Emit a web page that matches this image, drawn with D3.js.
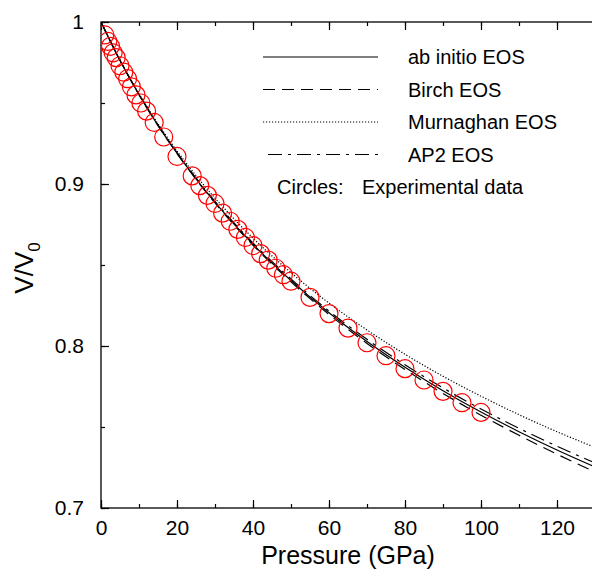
<!DOCTYPE html>
<html>
<head>
<meta charset="utf-8">
<script src="https://cdn.jsdelivr.net/npm/d3@7"></script>
<style>
  body { margin: 0; background: #fff; }
  text { font-family: "Liberation Sans", Arial, Helvetica, sans-serif; fill: #000; }
</style>
</head>
<body>
<div id="myDiagram"></div>
<script>
var pCurve = [0, 5, 10, 15, 20, 25, 30, 40, 50, 60, 70, 80, 90, 100, 110, 120, 130];

var abInitio  = [1, 0.9763, 0.9552, 0.9362, 0.9190, 0.9032, 0.8887, 0.8628, 0.8404, 0.8205, 0.8028, 0.7869, 0.7724, 0.7592, 0.7471, 0.7358, 0.7253];
var birch     = [1, 0.9763, 0.9551, 0.9360, 0.9188, 0.9029, 0.8883, 0.8622, 0.8396, 0.8195, 0.8016, 0.7855, 0.7707, 0.7573, 0.7449, 0.7332, 0.7223];
var murnaghan = [1, 0.9765, 0.9557, 0.9372, 0.9204, 0.9052, 0.8913, 0.8666, 0.8453, 0.8265, 0.8099, 0.7949, 0.7813, 0.7690, 0.7576, 0.7471, 0.7374];
var ap2       = [1, 0.9764, 0.9554, 0.9365, 0.9194, 0.9037, 0.8893, 0.8636, 0.8414, 0.8216, 0.8041, 0.7884, 0.7741, 0.7611, 0.7492, 0.7381, 0.7278];

// experimental data (circles)
var pExp = [1, 1.8, 2.5, 3.2, 4, 5, 6, 7, 8, 9.2, 10.5, 12, 14, 16.5, 20, 24, 26, 28, 30, 32, 34, 36, 38, 40, 42, 44, 46, 48, 50, 55, 60, 65, 70, 75, 80, 85, 90, 95, 100];
var vExp = [0.992, 0.988, 0.985, 0.981, 0.978, 0.973, 0.969, 0.965, 0.960, 0.955, 0.950, 0.945, 0.938, 0.929, 0.917, 0.905, 0.899, 0.893, 0.888, 0.882, 0.877, 0.872, 0.867, 0.862, 0.857, 0.853, 0.848, 0.844, 0.840, 0.830, 0.820, 0.811, 0.802, 0.794, 0.786, 0.779, 0.772, 0.765, 0.759];

var xTicks = [0, 20, 40, 60, 80, 100, 120];
var yTicks = [0.7, 0.8, 0.9, 1];

var legendItems = [
  { label: "ab initio EOS", dash: null, x0: 263 },
  { label: "Birch EOS", dash: "12,7", x0: 263 },
  { label: "Murnaghan EOS", dash: "1.2,1.8", x0: 263 },
  { label: "AP2 EOS", dash: "14,6,3,6", x0: 268 }
];

var W = 592, H = 573;
var mLeft = 101, mTop = 22, mBottom = 508, mRight = 595;

var svg = d3.select('#myDiagram')
  .append('svg')
  .attr('width', W)
  .attr('height', H);

var x = d3.scaleLinear().domain([0, 130]).range([mLeft, mRight]);
var y = d3.scaleLinear().domain([0.7, 1]).range([mBottom, mTop]);

svg.append("clipPath").attr("id", "plotClip")
  .append("rect")
  .attr("x", mLeft).attr("y", mTop)
  .attr("width", mRight - mLeft).attr("height", mBottom - mTop);

// frame
svg.append("rect")
  .attr("x", mLeft).attr("y", mTop)
  .attr("width", mRight - mLeft).attr("height", mBottom - mTop)
  .style("fill", "none")
  .style("stroke", "#000")
  .style("stroke-width", 1.3);

// ticks, all pointing inward
var xMinor = d3.range(0, 131, 10);
var yMinor = [0.7, 0.75, 0.8, 0.85, 0.9, 0.95, 1];

svg.append("g").attr("transform", "translate(0," + mBottom + ")")
  .call(d3.axisBottom(x).tickValues(xMinor).tickSize(-4).tickFormat(""))
  .call(function(g){ g.select(".domain").remove(); });
svg.append("g").attr("transform", "translate(0," + mBottom + ")")
  .call(d3.axisBottom(x).tickValues(xTicks).tickSize(-8).tickPadding(12).tickFormat(d3.format("d")))
  .call(function(g){ g.select(".domain").remove(); })
  .selectAll("text").style("font-size", "21px");
svg.append("g").attr("transform", "translate(0," + mTop + ")")
  .call(d3.axisTop(x).tickValues(xMinor).tickSize(-4).tickFormat(""))
  .call(function(g){ g.select(".domain").remove(); });
svg.append("g").attr("transform", "translate(0," + mTop + ")")
  .call(d3.axisTop(x).tickValues(xTicks).tickSize(-8).tickFormat(""))
  .call(function(g){ g.select(".domain").remove(); });

svg.append("g").attr("transform", "translate(" + mLeft + ",0)")
  .call(d3.axisLeft(y).tickValues(yMinor).tickSize(-4).tickFormat(""))
  .call(function(g){ g.select(".domain").remove(); });
svg.append("g").attr("transform", "translate(" + mLeft + ",0)")
  .call(d3.axisLeft(y).tickValues(yTicks).tickSize(-8).tickPadding(17).tickFormat(function(d){ return d === 1 ? "1" : d3.format(".1f")(d); }))
  .call(function(g){ g.select(".domain").remove(); })
  .selectAll("text").style("font-size", "21px");

svg.selectAll(".tick line").style("stroke", "#000").style("stroke-width", 1.2);

// curves
var line = d3.line()
  .x(function(d){ return x(d[0]); })
  .y(function(d){ return y(d[1]); })
  .curve(d3.curveMonotoneX);

var series = [
  { v: murnaghan, dash: "1.2,1.8" },
  { v: ap2, dash: "14,6,3,6" },
  { v: birch, dash: "12,7" },
  { v: abInitio, dash: null }
];

var plot = svg.append("g").attr("clip-path", "url(#plotClip)");

plot.selectAll("path.eos")
  .data(series)
  .enter()
  .append("path")
  .attr("class", "eos")
  .attr("d", function(s){ return line(pCurve.map(function(p, i){ return [p, s.v[i]]; })); })
  .style("fill", "none")
  .style("stroke", "#000")
  .style("stroke-width", 1.2)
  .style("stroke-dasharray", function(s){ return s.dash; });

plot.selectAll("circle")
  .data(pExp)
  .enter()
  .append("circle")
  .attr("cx", function(d){ return x(d); })
  .attr("cy", function(d, i){ return y(vExp[i]); })
  .attr("r", 9)
  .style("fill", "none")
  .style("stroke", "#ff0000")
  .style("stroke-width", 1.2);

// legend
var leg = svg.append("g");
legendItems.forEach(function(item, i){
  var ly = 57 + i * 32.5;
  leg.append("line")
    .attr("x1", item.x0).attr("x2", 378)
    .attr("y1", ly).attr("y2", ly)
    .style("stroke", "#000")
    .style("stroke-width", 1.2)
    .style("stroke-dasharray", item.dash);
  leg.append("text")
    .attr("x", 408).attr("y", ly + 7)
    .style("font-size", "20px")
    .text(item.label);
});
leg.append("text").attr("x", 277).attr("y", 57 + 4 * 32.5 + 7).style("font-size", "20px").text("Circles:");
leg.append("text").attr("x", 362).attr("y", 57 + 4 * 32.5 + 7).style("font-size", "20px").text("Experimental data");

// axis titles
svg.append("text")
  .attr("x", x(65)).attr("y", 564)
  .attr("text-anchor", "middle")
  .style("font-size", "25px")
  .text("Pressure (GPa)");

var yt = svg.append("text")
  .attr("transform", "translate(33,268) rotate(-90)")
  .attr("text-anchor", "middle")
  .style("font-size", "26px");
yt.append("tspan").text("V/V");
yt.append("tspan").attr("dy", 7).style("font-size", "17px").text("0");
</script>
</body>
</html>
